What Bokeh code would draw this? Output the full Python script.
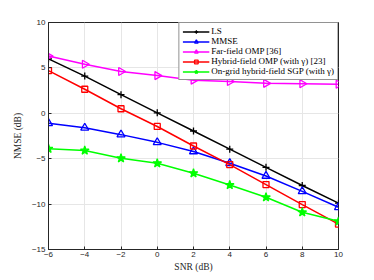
import numpy as np
from bokeh.plotting import figure
from bokeh.models import Legend, LegendItem, FixedTicker
from bokeh.embed import file_html
from bokeh.resources import INLINE

snr = [-6, -4, -2, 0, 2, 4, 6, 8, 10]
ls_vals = [6.0, 4.1, 2.05, 0.05, -1.95, -3.95, -5.95, -7.95, -9.9]
mmse_vals = [-1.1, -1.6, -2.35, -3.2, -4.2, -5.5, -6.9, -8.6, -10.35]
far_vals = [6.3, 5.4, 4.6, 4.15, 3.65, 3.5, 3.3, 3.25, 3.2]
hyb_vals = [4.7, 2.65, 0.5, -1.45, -3.6, -5.65, -7.85, -10.05, -12.2]
sgp_vals = [-3.9, -4.1, -4.95, -5.5, -6.6, -7.9, -9.25, -10.9, -11.9]

labels = ["LS", "MMSE", "Far-field OMP [36]", "Hybrid-field OMP (with \u03b3) [23]",
          "On-grid hybrid-field SGP (with \u03b3)"]

p = figure(frame_width=290, frame_height=227, output_backend="svg", toolbar_location=None,
           x_range=(-6, 10), y_range=(-15, 10),
           min_border_left=48, min_border_right=20, min_border_top=22, min_border_bottom=0)
p.background_fill_color = "white"
p.border_fill_color = "white"
p.outline_line_color = "#262626"
p.outline_line_width = 1

p.xaxis.ticker = FixedTicker(ticks=snr)
p.yaxis.ticker = FixedTicker(ticks=[-15, -10, -5, 0, 5, 10])
for ax in (p.xaxis, p.yaxis):
    ax.major_tick_in = 3
    ax.major_tick_out = 0
    ax.minor_tick_line_color = None
    ax.axis_line_color = "#262626"
    ax.major_tick_line_color = "#262626"
    ax.major_label_text_font = "Liberation Sans"
    ax.major_label_text_font_size = "8px"
    ax.major_label_text_color = "#262626"
    ax.axis_label_text_font = "Liberation Serif"
    ax.axis_label_text_font_size = "9.5px"
    ax.axis_label_text_font_style = "normal"
    ax.axis_label_text_color = "#262626"
p.xaxis.axis_label = "SNR (dB)"
p.yaxis.axis_label = "NMSE (dB)"
p.xaxis.major_label_standoff = 2
p.yaxis.major_label_standoff = 3
p.xaxis.axis_label_standoff = 2
p.yaxis.axis_label_standoff = 6

p.grid.grid_line_color = "#e6e6e6"
p.grid.grid_line_width = 1

series = [
    (ls_vals, "black", "cross", 0.0, 7),
    (mmse_vals, "blue", "triangle", 0.0, 8),
    (far_vals, "magenta", "triangle", -np.pi / 2, 8),
    (hyb_vals, "red", "square", 0.0, 6),
    (sgp_vals, "#00ff00", "star", 0.0, 9),
]

items = []
for (vals, col, mk, ang, sz), lab in zip(series, labels):
    r1 = p.line(snr, vals, line_color=col, line_width=1.5)
    r2 = p.scatter(snr, vals, marker=mk, size=sz, angle=ang, line_color=col,
                   fill_color=col if mk == "star" else None, line_width=1.3)
    items.append(LegendItem(label=lab, renderers=[r1, r2]))

legend = Legend(items=items, location="top_right")
legend.label_text_font = "Liberation Serif"
legend.label_text_font_size = "9px"
legend.label_text_color = "black"
legend.glyph_width = 27
legend.glyph_height = 9
legend.label_height = 9
legend.spacing = 0
legend.padding = 3
legend.margin = 0
legend.label_standoff = 2
legend.border_line_color = "#262626"
legend.border_line_width = 1
legend.background_fill_alpha = 1.0
p.add_layout(legend)

open("out.html", "w").write(file_html(p, INLINE))
